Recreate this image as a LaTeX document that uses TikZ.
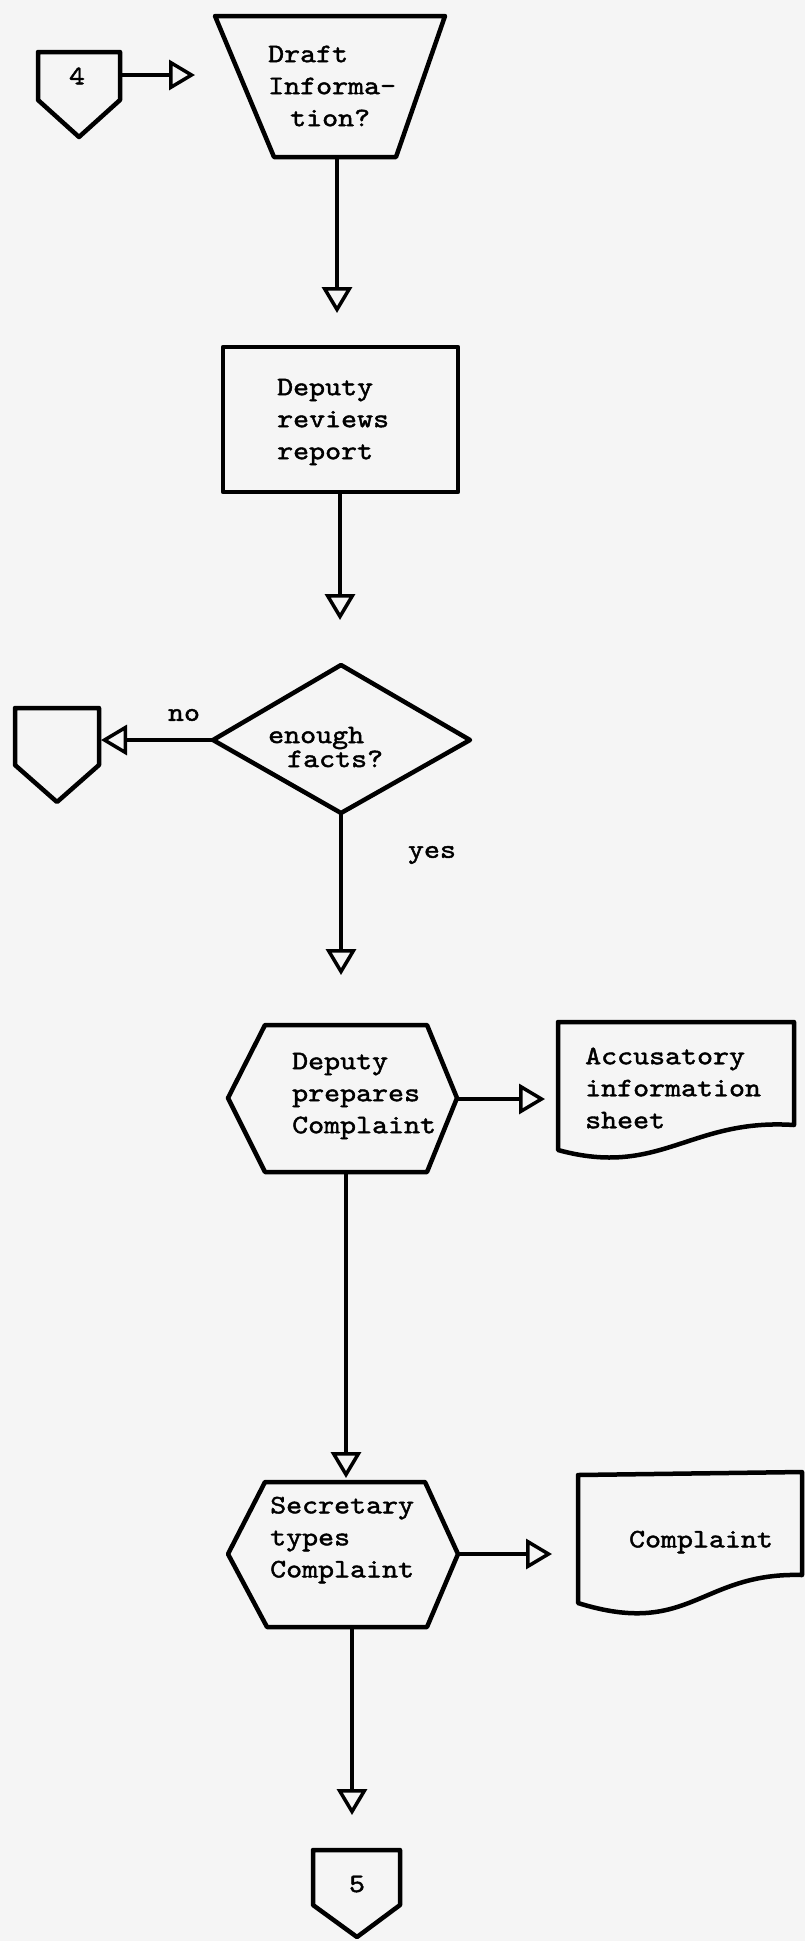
\documentclass[tikz,border=0pt]{standalone}
\usepackage{fontspec}
\usetikzlibrary{arrows.meta}
\newfontfamily\typer[FakeStretch=1.14,FakeBold=1.6]{lmmono10-regular.otf}
\tikzset{
  box/.style={line width=4.5pt, line join=round},
  flow/.style={line width=4.5pt, -{Triangle[open,length=26pt,width=30pt,line width=3.5pt]}},
  txt/.style={font=\typer\fontsize{26.7}{32}\selectfont, inner sep=0pt, align=left},
}
\begin{document}
\begin{tikzpicture}[x=1pt,y=-1pt]
    \fill[black!4] (0,0) rectangle (805,1941);
    \useasboundingbox (0,0) rectangle (805,1941);
    % connector 4 and the trapezium
    \draw[box] (38,52)--(120,52)--(120,100)--(79,137)--(38,100)--cycle;
    \node[txt] (n4) at (77,76) {4};
    \draw[box] (215,16)--(445,16)--(396,157)--(274,157)--cycle;
    \node[txt, anchor=west] (draft) at (268,86) {Draft\\Informa-\\\hspace*{22pt}tion?};
    \coordinate (c4out) at (120,75);
    \coordinate (tip0) at (195,75);
    \coordinate (trapS) at (337,157);
    \coordinate (tip1) at (337,313);
    \draw[flow] (c4out)--(tip0);
    \draw[flow] (trapS)--(tip1);
    % review box
    \draw[box] (223,347) rectangle (458,492);
    \node[txt, anchor=west] (review) at (277,422) {Deputy\\reviews\\report};
    \coordinate (rectS) at (340,492);
    \coordinate (tip2) at (340,620);
    \draw[flow] (rectS)--(tip2);
    % decision
    \coordinate (diaL) at (213,740);
    \coordinate (diaS) at (341,813);
    \draw[box] (diaL)--(341,665)--(470,740)--(diaS)--cycle;
    \node[txt, anchor=west] (facts) at (268,747) {enough\\[-8pt]\hspace*{19pt}facts?};
    \node[txt] (no) at (184,715) {no};
    \node[txt] (yes) at (432,855) {yes};
    \draw[box] (15,708)--(99,708)--(99,765)--(57,802)--(15,765)--cycle;
    \coordinate (tipno) at (101,740);
    \coordinate (tip3) at (341,975);
    \draw[flow] (diaL)--(tipno);
    \draw[flow] (diaS)--(tip3);
    % deputy prepares complaint
    \draw[box] (228,1098)--(265,1025)--(427,1025)--(457,1098)--(427,1172)--(265,1172)--cycle;
    \node[txt, anchor=west] (prep) at (292,1096) {Deputy\\prepares\\Complaint};
    \draw[box] (558,1022)--(794,1022)--(794,1125) .. controls (690,1118) and (660,1178) .. (558,1150)--cycle;
    \node[txt, anchor=west] (sheet) at (585,1088) {Accusatory\\information\\sheet};
    \coordinate (hex1E) at (457,1099);
    \coordinate (tip5) at (545,1099);
    \coordinate (hex1S) at (346,1172);
    \coordinate (tip4) at (346,1478);
    \draw[flow] (hex1E)--(tip5);
    \draw[flow] (hex1S)--(tip4);
    % secretary types complaint
    \draw[box] (228,1554)--(265,1482)--(425,1482)--(458,1554)--(427,1627)--(267,1627)--cycle;
    \node[txt, anchor=west] (types) at (270,1540) {Secretary\\types\\Complaint};
    \draw[box] (578,1475)--(802,1472)--(802,1575) .. controls (700,1572) and (690,1638) .. (578,1603)--cycle;
    \node[txt] (compl) at (701,1542) {Complaint};
    \coordinate (hex2E) at (458,1554);
    \coordinate (tip7) at (552,1554);
    \coordinate (hex2S) at (352,1627);
    \coordinate (tip6) at (352,1815);
    \draw[flow] (hex2E)--(tip7);
    \draw[flow] (hex2S)--(tip6);
    % connector 5
    \draw[box] (313,1850)--(400,1850)--(400,1905)--(357,1937)--(313,1905)--cycle;
    \node[txt] (n5) at (357,1884) {5};
\end{tikzpicture}
\end{document}
